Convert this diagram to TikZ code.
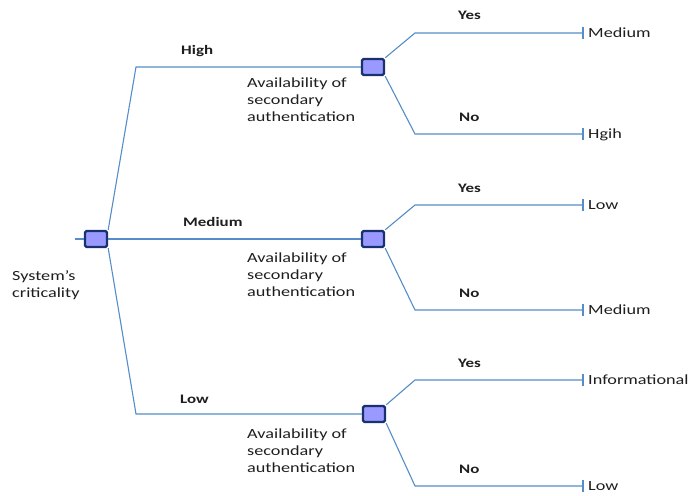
\documentclass[tikz,border=0pt]{standalone}
\usepackage{fontspec}
\setmainfont{Carlito}[FakeStretch=1.3]
\begin{document}
\definecolor{branchblue}{RGB}{84,141,200}
\definecolor{boxfill}{RGB}{153,153,255}
\definecolor{boxedge}{RGB}{25,50,110}
\definecolor{inkgray}{RGB}{30,30,30}
\begin{tikzpicture}[x=1pt,y=-1pt,
  decisionbox/.style={draw=boxedge,fill=boxfill,line width=2.4pt,rounded corners=1.5pt,
    minimum width=22pt,minimum height=16pt,inner sep=0pt},
  branch/.style={draw=branchblue,line width=1.1pt},
  tickend/.style={draw=branchblue,line width=1.1pt},
  choice/.style={font=\fontsize{13}{16}\selectfont\bfseries,text=inkgray,inner sep=0pt,anchor=base west},
  outcome/.style={font=\fontsize{14}{17}\selectfont,text=inkgray,inner sep=0pt,anchor=base west},
  question/.style={font=\fontsize{14}{17}\selectfont,text=inkgray,inner sep=0pt,align=left,anchor=base west}]
\useasboundingbox (0,0) rectangle (692,495);

% root decision and its label (multi-line labels sit on their last baseline)
\node[decisionbox] (root) at (96,239) {};
\coordinate (stub) at (75,239);
\draw[branch] (stub) -- (root.west);
\node[question] (rootlbl) at (12,297) {System's\\criticality};

% second-level decisions
\node[decisionbox] (dh) at (373,67) {};
\node[decisionbox] (dm) at (373,239) {};
\node[decisionbox] (dl) at (374,414) {};

\coordinate (kh) at (136,67);
\coordinate (kl) at (136,414);
\draw[branch] (root.north east) -- (kh) -- (dh.west);
\draw[branch] (root.east) -- (dm.west);
\draw[branch] (root.south east) -- (kl) -- (dl.west);

\node[choice] (lh) at (181,55) {High};
\node[choice] (lm) at (183,226) {Medium};
\node[choice] (ll) at (180,403) {Low};

\node[question] (qh) at (247,121) {Availability of\\secondary\\authentication};
\node[question] (qm) at (247,296) {Availability of\\secondary\\authentication};
\node[question] (ql) at (247,472) {Availability of\\secondary\\authentication};

% leaves: bend points, end ticks and outcomes
\foreach \d/\yy/\ny/\ya/\na [count=\i] in {dh/33/134/Medium/Hgih, dm/205/310/Low/Medium, dl/380/486/Informational/Low}{
  \coordinate (by\i) at (415,\yy);
  \coordinate (bn\i) at (415,\ny);
  \coordinate (ey\i) at (583,\yy);
  \coordinate (en\i) at (583,\ny);
  \draw[branch] (\d.north east) -- (by\i) -- (ey\i);
  \draw[branch] (\d.south east) -- (bn\i) -- (en\i);
  \draw[tickend] ([yshift=-6pt]ey\i) -- ([yshift=6pt]ey\i);
  \draw[tickend] ([yshift=-6pt]en\i) -- ([yshift=6pt]en\i);
  \node[choice] (yes\i) at ([xshift=-125pt,yshift=13pt]ey\i) {Yes};
  \node[choice] (no\i) at ([xshift=-124pt,yshift=13pt]en\i) {No};
  \node[outcome] (oy\i) at ([xshift=5pt,yshift=-4.5pt]ey\i) {\ya};
  \node[outcome] (on\i) at ([xshift=5pt,yshift=-4.5pt]en\i) {\na};
}
\end{tikzpicture}
\end{document}
